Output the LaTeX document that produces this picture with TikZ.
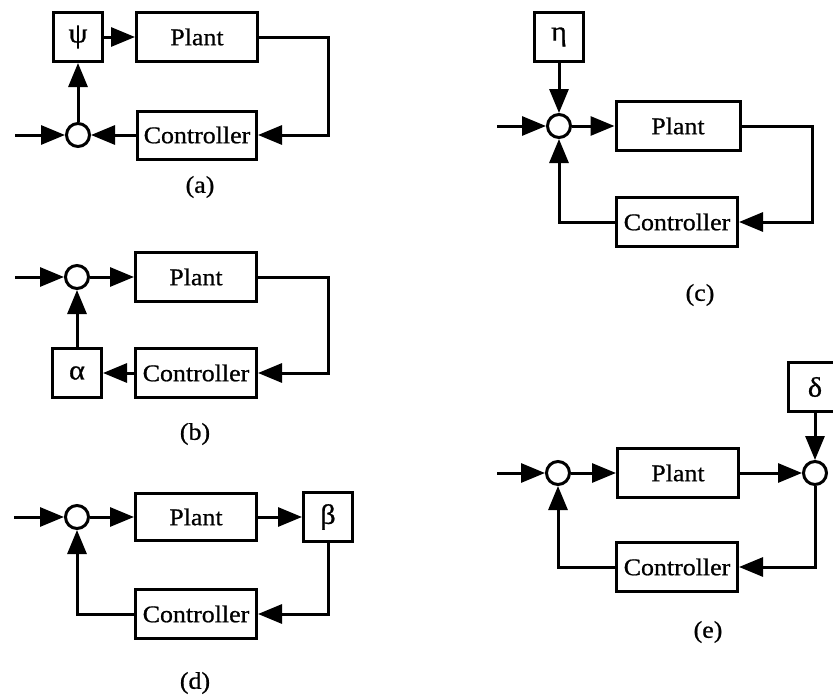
\documentclass[tikz,border=0pt]{standalone}
\usepackage{fontspec}
\setmainfont{Liberation Serif}[FakeStretch=1.08,FakeBold=0.8]
\usetikzlibrary{arrows.meta}
\begin{document}
\begin{tikzpicture}[x=1pt,y=-1pt,
  line width=3pt,
  blk/.style={draw, rectangle, minimum width=#1, minimum height=49pt, inner sep=0pt, font=\fontsize{24}{27}\selectfont},
  blk/.default=121pt,
  gbox/.style={draw, rectangle, minimum width=49pt, minimum height=49pt, inner sep=0pt, font=\fontsize{28}{30}\selectfont},
  sumc/.style={draw, circle, minimum size=23pt, inner sep=0pt, fill=white},
  arr/.style={-{Triangle[length=24pt,width=19pt]}},
  lab/.style={font=\fontsize{24}{27}\selectfont},
]
\fill[white] (0,0) rectangle (833,696);
\useasboundingbox (0,0) rectangle (833,696);

% ---------- (a)
\node[gbox] (psiA) at (78,37) {ψ};
\node[blk] (plantA) at (197,37) {Plant};
\node[sumc] (sumA) at (78,135) {};
\node[blk=119pt, minimum height=48pt] (ctrlA) at (197,135) {Controller};
\coordinate (inA) at (15,135);
\coordinate (cA) at (328,0);
\draw[arr] (inA) -- (sumA.west);
\draw[arr] (sumA.north) -- (psiA.south);
\draw[arr] (psiA.east) -- (plantA.west);
\draw[arr] (plantA.east) -- (plantA.east -| cA) -- (ctrlA.east -| cA) -- (ctrlA.east);
\draw[arr] (ctrlA.west) -- (sumA.east);
\node[lab] (labA) at (200,187) {(a)};

% ---------- (b)
\node[sumc] (sumB) at (77,277) {};
\node[blk] (plantB) at (196,277) {Plant};
\node[gbox] (alphaB) at (77,373) {α};
\node[blk] (ctrlB) at (196,373) {Controller};
\coordinate (inB) at (15,277);
\coordinate (cB) at (328,0);
\draw[arr] (inB) -- (sumB.west);
\draw[arr] (sumB.east) -- (plantB.west);
\draw[arr] (plantB.east) -- (plantB.east -| cB) -- (ctrlB.east -| cB) -- (ctrlB.east);
\draw[arr] (ctrlB.west) -- (alphaB.east);
\draw[arr] (alphaB.north) -- (sumB.south);
\node[lab] (labB) at (195,434) {(b)};

% ---------- (d)
\node[sumc] (sumD) at (77,517) {};
\node[blk, minimum height=47pt] (plantD) at (196,517) {Plant};
\node[gbox] (betaD) at (328,517) {β};
\node[blk] (ctrlD) at (196,614) {Controller};
\coordinate (inD) at (14,517);
\draw[arr] (inD) -- (sumD.west);
\draw[arr] (sumD.east) -- (plantD.west);
\draw[arr] (plantD.east) -- (betaD.west);
\draw[arr] (betaD.south) -- (betaD.south |- ctrlD.east) -- (ctrlD.east);
\draw[arr] (ctrlD.west) -- (ctrlD.west -| sumD.south) -- (sumD.south);
\node[lab] (labD) at (195,683) {(d)};

% ---------- (c)
\node[gbox] (etaC) at (559,37) {η};
\node[sumc] (sumC) at (559,126) {};
\node[blk=124pt] (plantC) at (678,126) {Plant};
\node[blk] (ctrlC) at (677,222) {Controller};
\coordinate (inC) at (497,126);
\coordinate (cC) at (812,0);
\draw[arr] (inC) -- (sumC.west);
\draw[arr] (etaC.south) -- (sumC.north);
\draw[arr] (sumC.east) -- (plantC.west);
\draw[arr] (plantC.east) -- (plantC.east -| cC) -- (ctrlC.east -| cC) -- (ctrlC.east);
\draw[arr] (ctrlC.west) -- (ctrlC.west -| sumC.south) -- (sumC.south);
\node[lab] (labC) at (700,295) {(c)};

% ---------- (e)
\node[sumc] (sumE) at (558,473) {};
\node[blk] (plantE) at (678,473) {Plant};
\node[sumc] (sumF) at (815,473) {};
\node[gbox, minimum width=54pt] (deltaE) at (815,387) {δ};
\node[blk] (ctrlE) at (677,567) {Controller};
\coordinate (inE) at (497,473);
\draw[arr] (inE) -- (sumE.west);
\draw[arr] (sumE.east) -- (plantE.west);
\draw[arr] (plantE.east) -- (sumF.west);
\draw[arr] (deltaE.south) -- (sumF.north);
\draw[arr] (sumF.south) -- (sumF.south |- ctrlE.east) -- (ctrlE.east);
\draw[arr] (ctrlE.west) -- (ctrlE.west -| sumE.south) -- (sumE.south);
\node[lab] (labE) at (708,632) {(e)};
\end{tikzpicture}
\end{document}
